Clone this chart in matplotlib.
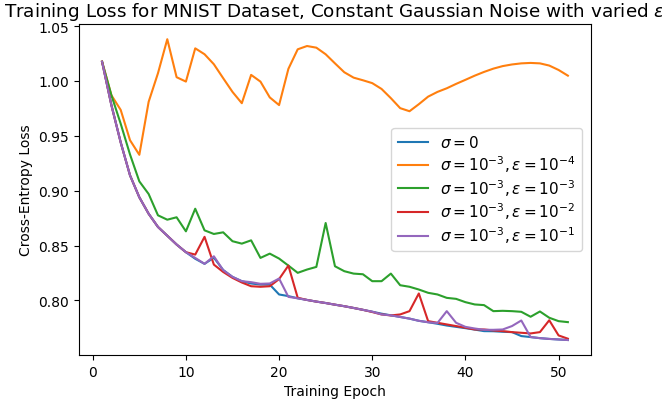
import matplotlib
matplotlib.use("Agg")
import matplotlib.pyplot as plt

# training loss per epoch for each noise setting
epochs = list(range(1, 52))

loss_sigma0 = [1.0175, 0.978, 0.944, 0.914, 0.894, 0.879, 0.867, 0.859, 0.851, 0.844,
               0.838, 0.8334, 0.839, 0.8278, 0.8215, 0.8176, 0.8155, 0.8145, 0.8145, 0.8055,
               0.804, 0.802, 0.8005, 0.799, 0.7977, 0.7962, 0.7948, 0.7932, 0.7915, 0.7898,
               0.788, 0.7865, 0.785, 0.7835, 0.7815, 0.7802, 0.7788, 0.7772, 0.776, 0.7748,
               0.7735, 0.7721, 0.772, 0.7715, 0.7712, 0.7676, 0.7667, 0.7657, 0.765, 0.7645,
               0.764]

loss_eps1e4 = [1.0175, 0.987, 0.9736, 0.946, 0.9327, 0.981, 1.007, 1.038, 1.0034, 0.9994,
               1.0297, 1.0243, 1.0152, 1.0025, 0.990, 0.9797, 1.0055, 0.9994, 0.985, 0.978,
               1.011, 1.0288, 1.0318, 1.0303, 1.0243, 1.016, 1.0079, 1.003, 1.0006, 0.998,
               0.9927, 0.9843, 0.9752, 0.9724, 0.9788, 0.9857, 0.990, 0.9933, 0.9973, 1.001,
               1.0048, 1.0082, 1.0112, 1.0135, 1.015, 1.016, 1.0164, 1.016, 1.014, 1.010,
               1.0048]

loss_eps1e3 = [1.0175, 0.987, 0.961, 0.933, 0.9085, 0.897, 0.8776, 0.8736, 0.8758, 0.863,
               0.8836, 0.8639, 0.8606, 0.8621, 0.854, 0.8518, 0.8548, 0.8388, 0.8427, 0.8382,
               0.8318, 0.8252, 0.8282, 0.8306, 0.8706, 0.8312, 0.8267, 0.8245, 0.8239, 0.8176,
               0.8176, 0.8245, 0.8139, 0.8125, 0.810, 0.807, 0.8055, 0.8024, 0.8015, 0.7985,
               0.7964, 0.7958, 0.7903, 0.7906, 0.7903, 0.7897, 0.7852, 0.790, 0.7843, 0.7812,
               0.7803]

loss_eps1e2 = [1.0175, 0.978, 0.944, 0.914, 0.894, 0.879, 0.867, 0.859, 0.851, 0.844,
               0.8418, 0.858, 0.8327, 0.826, 0.8206, 0.8164, 0.813, 0.8125, 0.813, 0.8195,
               0.8318, 0.8025, 0.8005, 0.799, 0.7977, 0.7962, 0.7948, 0.7932, 0.7915, 0.7895,
               0.7873, 0.7864, 0.7873, 0.7903, 0.8064, 0.7812, 0.7797, 0.7782, 0.7767, 0.7752,
               0.7736, 0.7736, 0.7727, 0.7721, 0.7712, 0.7706, 0.770, 0.7712, 0.782, 0.7682,
               0.7652]

loss_eps1e1 = [1.0175, 0.978, 0.944, 0.914, 0.894, 0.879, 0.867, 0.859, 0.851, 0.844,
               0.8388, 0.8334, 0.8403, 0.8276, 0.8215, 0.8176, 0.8167, 0.8152, 0.8155, 0.820,
               0.8033, 0.802, 0.8005, 0.799, 0.7977, 0.7962, 0.7948, 0.7932, 0.7915, 0.7898,
               0.7873, 0.7865, 0.785, 0.7835, 0.7815, 0.7802, 0.7795, 0.7903, 0.7797, 0.776,
               0.7745, 0.7733, 0.7733, 0.7736, 0.7767, 0.7818, 0.7667, 0.7657, 0.765, 0.7645,
               0.764]

labels = [r"$\sigma = 0$",
          r"$\sigma = 10^{-3}, \varepsilon = 10^{-4}$",
          r"$\sigma = 10^{-3}, \varepsilon = 10^{-3}$",
          r"$\sigma = 10^{-3}, \varepsilon = 10^{-2}$",
          r"$\sigma = 10^{-3}, \varepsilon = 10^{-1}$"]

fig = plt.figure(figsize=(6.62, 4.06), dpi=100)
ax = fig.add_axes([0.119, 0.123, 0.774, 0.815])

series = [loss_sigma0, loss_eps1e4, loss_eps1e3, loss_eps1e2, loss_eps1e1]
for s, lab in zip(series, labels):
    ax.plot(epochs, s, label=lab)

ax.set_xlabel("Training Epoch")
ax.set_ylabel("Cross-Entropy Loss")
# long title runs past the figure edge on purpose (same width as the axes row)
ax.set_title(r"Training Loss for MNIST Dataset, Constant Gaussian Noise with varied $\varepsilon$",
             fontsize=13.2)
ax.legend(loc="center right", fontsize=11, labelspacing=0.2, borderaxespad=0.6)

fig.savefig("out.png", dpi=100)
